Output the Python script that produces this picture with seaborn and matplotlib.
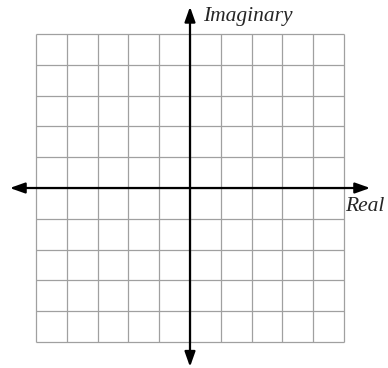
import matplotlib
matplotlib.use("Agg")
import matplotlib.pyplot as plt
import seaborn as sns

# grid of the complex plane, -5..5 on both axes
grid_ticks = [-5, -4, -3, -2, -1, 0, 1, 2, 3, 4, 5]
axis_reach = 5.85
x_label = "Real"
y_label = "Imaginary"

sns.set_style("white")
plt.rcParams["font.family"] = ["Liberation Serif", "DejaVu Serif"]

fig = plt.figure(figsize=(3.88, 3.68), dpi=100)
ax = fig.add_axes([0, 0, 1, 1])
ax.set_xlim(-6.17, 6.43)
ax.set_ylim(-5.84, 6.10)
ax.set_aspect("equal", adjustable="datalim")
ax.axis("off")

lo, hi = grid_ticks[0], grid_ticks[-1]
ax.vlines(grid_ticks, lo, hi, color="#a0a0a0", lw=0.9, zorder=1)
ax.hlines(grid_ticks, lo, hi, color="#a0a0a0", lw=0.9, zorder=1)

arrow = dict(arrowstyle="<|-|>,head_length=0.9,head_width=0.32", color="black",
             lw=1.6, shrinkA=0, shrinkB=0)
ax.annotate("", xy=(axis_reach, 0), xytext=(-axis_reach, 0), arrowprops=arrow, zorder=3)
ax.annotate("", xy=(0, axis_reach + 0.03), xytext=(0, -axis_reach + 0.05), arrowprops=arrow, zorder=3)

ax.text(0.42, 5.58, y_label, fontsize=15.5, style="italic", ha="left", va="center")
ax.text(5.03, -0.6, x_label, fontsize=15.5, style="italic", ha="left", va="center")

fig.savefig("out.png", dpi=100)
plt.close(fig)
